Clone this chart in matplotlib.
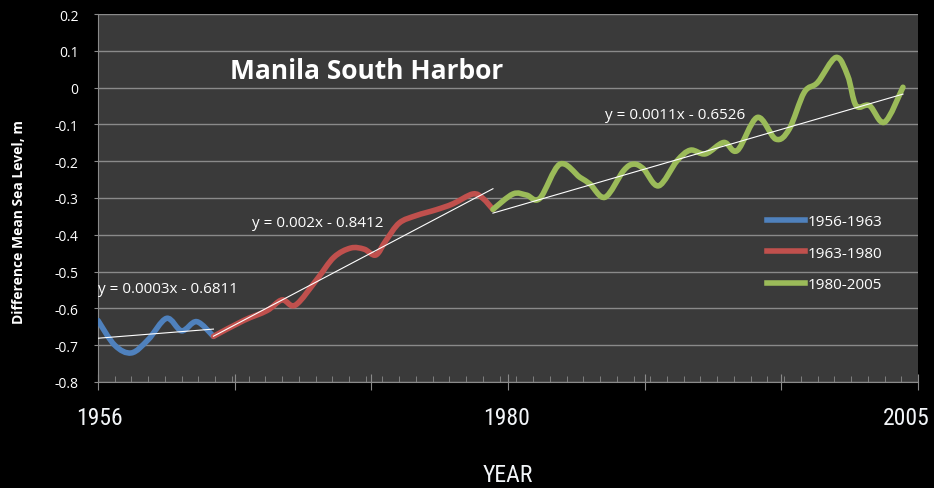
import numpy as np
import matplotlib.pyplot as plt
from matplotlib.path import Path
from matplotlib.patches import PathPatch
from matplotlib.lines import Line2D
from matplotlib.ticker import FixedLocator, MultipleLocator
import matplotlib.transforms as mtransforms

# sea level record, read as (year, metres) along each smoothed segment
years_a = [1956.0, 1957.0, 1958.0, 1959.0, 1960.1, 1961.0, 1961.9, 1962.9]
level_a = [-0.633, -0.700, -0.721, -0.685, -0.627, -0.661, -0.636, -0.676]

years_b = [1962.9, 1964.7, 1966.1, 1967.0, 1967.8, 1969.1, 1970.1, 1971.1,
           1971.9, 1972.6, 1973.2, 1974.0, 1975.0, 1976.2, 1977.2, 1978.4,
           1979.0, 1979.6]
level_b = [-0.676, -0.633, -0.606, -0.577, -0.591, -0.520, -0.461, -0.436,
           -0.439, -0.455, -0.416, -0.368, -0.348, -0.332, -0.316, -0.289,
           -0.301, -0.331]

years_c = [1979.6, 1980.8, 1981.6, 1982.4, 1983.6, 1984.8, 1985.4, 1986.3,
           1987.4, 1988.0, 1988.6, 1989.5, 1990.6, 1991.4, 1992.3, 1993.4,
           1994.2, 1995.4, 1996.5, 1997.3, 1998.2, 1999.0, 2000.1, 2000.8,
           2001.3, 2002.1, 2003.0, 2004.1]
level_c = [-0.331, -0.289, -0.292, -0.301, -0.208, -0.244, -0.262, -0.298,
           -0.226, -0.208, -0.221, -0.267, -0.199, -0.170, -0.180, -0.149,
           -0.171, -0.081, -0.140, -0.113, -0.013, 0.014, 0.082, 0.032,
           -0.049, -0.049, -0.094, 0.001]

series_labels = ['1956-1963', '1963-1980', '1980-2005']
series_colors = ['#4f81bd', '#c0504d', '#9bbb59']

# linear fits, x counted in months from Jan 1956
fit_slope = [0.0003, 0.002, 0.0011]
fit_icept = [-0.6811, -0.8412, -0.6526]
fit_text = ['y = 0.0003x - 0.6811', 'y = 0.002x - 0.8412', 'y = 0.0011x - 0.6526']
fit_text_pos = [(1956.0, -0.556), (1965.2, -0.375), (1986.3, -0.083)]

year_ticks = [1956, 1980, 2005]
year_tick_x = [1956.1, 1980.4, 2004.3]

narrow = ['Roboto Condensed', 'Liberation Sans Narrow', 'Roboto', 'DejaVu Sans']


def smooth_path(xs, ys):
    # catmull-rom style bezier through the points, like a "smoothed line"
    p = np.column_stack([xs, ys])
    n = len(p)
    verts = [p[0]]
    codes = [Path.MOVETO]
    for i in range(n - 1):
        p0 = p[i - 1] if i > 0 else p[i]
        p3 = p[i + 2] if i + 2 < n else p[i + 1]
        c1 = p[i] + (p[i + 1] - p0) / 6.0
        c2 = p[i + 1] - (p3 - p[i]) / 6.0
        verts += [c1, c2, p[i + 1]]
        codes += [Path.CURVE4] * 3
    return Path(verts, codes)


plt.rcParams['font.family'] = ['Open Sans', 'DejaVu Sans']

fig = plt.figure(figsize=(9.34, 4.89), dpi=100, facecolor='black')
ax = fig.add_axes([0.1049, 0.2168, 0.8780, 0.7525])
ax.set_facecolor('#3a3a3a')

ax.set_xlim(1956, 2005)
ax.set_ylim(-0.8, 0.2)
ax.set_yticks(np.arange(-0.8, 0.21, 0.1))
ax.set_yticklabels(['-0.8', '-0.7', '-0.6', '-0.5', '-0.4', '-0.3', '-0.2',
                    '-0.1', '0', '0.1', '0.2'])
ax.grid(axis='y', color='#8a8a8a', linewidth=1.0)
ax.set_axisbelow(True)

ax.xaxis.set_major_locator(FixedLocator(np.linspace(1956, 2005, 7)))
ax.xaxis.set_minor_locator(MultipleLocator(1))
ax.set_xticklabels([])
ax.tick_params(axis='x', which='major', direction='inout', length=12,
               color='#8a8a8a')
ax.tick_params(axis='x', which='minor', direction='in', length=4,
               color='#8a8a8a')
ax.tick_params(axis='y', direction='out', length=3, color='#8a8a8a',
               labelcolor='white', labelsize=10, pad=11)

for side in ['top', 'right']:
    ax.spines[side].set_visible(False)
for side in ['left', 'bottom']:
    ax.spines[side].set_color('#8a8a8a')

all_years = [years_a, years_b, years_c]
all_levels = [level_a, level_b, level_c]

for xs, ys, col in zip(all_years, all_levels, series_colors):
    ax.add_patch(PathPatch(smooth_path(xs, ys), facecolor='none',
                           edgecolor=col, linewidth=4, capstyle='round',
                           joinstyle='round', zorder=3))

# trend lines over each segment
for xs, m, b in zip(all_years, fit_slope, fit_icept):
    tx = np.array([xs[0], xs[-1]])
    months = (tx - 1956) * 12
    ax.plot(tx, m * months + b, color='white', linewidth=0.8, zorder=4)

for txt, (x, y) in zip(fit_text, fit_text_pos):
    ax.text(x, y, txt, color='white', fontsize=11, ha='left',
            va='baseline', zorder=5)

ax.text(0.327, 0.825, 'Manila South Harbor', transform=ax.transAxes,
        color='white', fontsize=19, fontweight='bold', ha='center',
        va='baseline')

handles = [Line2D([], [], color=c, linewidth=4) for c in series_colors]
ax.legend(handles, series_labels, loc='center left',
          bbox_to_anchor=(0.8155, 0.35), frameon=False, fontsize=11,
          labelcolor='white', handlelength=2.5, handletextpad=0.2,
          labelspacing=1.1, borderpad=0, borderaxespad=0)

# big year labels under the axis
trans = mtransforms.blended_transform_factory(ax.transData, fig.transFigure)
for lab, x in zip(year_ticks, year_tick_x):
    ax.text(x, 1 - 419 / 489, str(lab), transform=trans, color='#f2f5f8',
            fontsize=17, ha='center', va='center', family=narrow)

fig.text(508 / 934, 1 - 476 / 489, 'YEAR', color='#f2f5f8', fontsize=17,
         ha='center', va='center', family=narrow)

fig.text(19.5 / 934, 1 - 222 / 489, 'Difference Mean Sea Level, m',
         color='white', fontsize=10, fontweight='bold', rotation=90,
         ha='center', va='center')

fig.savefig('out.png', dpi=100, facecolor='black')
